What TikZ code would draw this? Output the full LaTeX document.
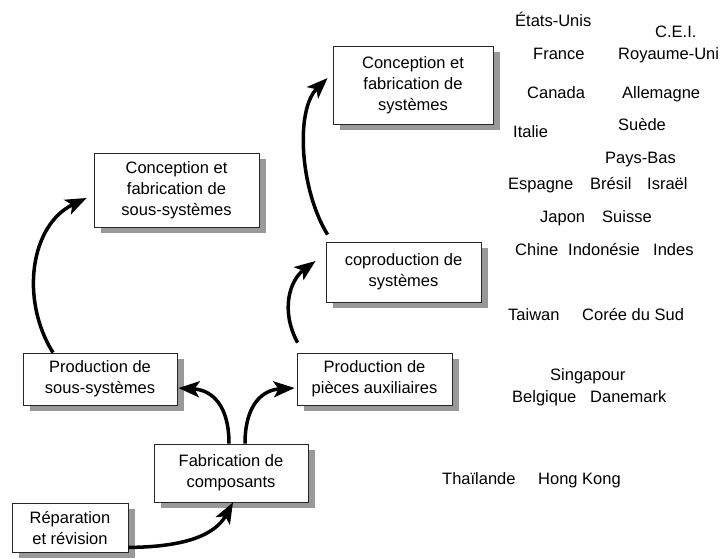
\documentclass[tikz,border=0pt]{standalone}
\usepackage{fontspec}
\setmainfont{Liberation Sans}
\usetikzlibrary{arrows.meta,backgrounds,calc}
\begin{document}
\begin{tikzpicture}[x=1pt,y=-1pt,
  box/.style={draw=black!85, line width=0.8pt, fill=white, align=center, inner sep=0pt,
    font=\fontsize{16.5}{21}\selectfont},
  shadowbox/.style={fill=black!40},
  country/.style={anchor=base west, inner sep=0pt, font=\fontsize{16.5}{20}\selectfont},
  arr/.style={line width=3.5pt, -{Stealth[length=21pt,width=16pt,inset=5pt]}}]
\useasboundingbox (0,0) rectangle (723,558);

% boxes
\node[box, minimum width=116pt, minimum height=49pt] (rep) at (70,527.5) {Réparation\\et révision};
\node[box, minimum width=154pt, minimum height=58pt] (fab) at (231,473) {Fabrication de\\composants};
\node[box, minimum width=154pt, minimum height=52pt] (pss) at (100,379) {Production de\\sous-systèmes};
\node[box, minimum width=155pt, minimum height=52pt] (pai) at (374.5,379) {Production de\\pièces auxiliaires};
\node[box, minimum width=155pt, minimum height=60pt] (cop) at (403.5,272) {coproduction de\\systèmes};
\node[box, minimum width=160pt, minimum height=78pt] (cfs) at (413,85) {Conception et\\fabrication de\\systèmes};
\node[box, minimum width=165pt, minimum height=74pt] (css) at (176.5,190) {Conception et\\fabrication de\\sous-systèmes};

% shadows
\begin{scope}[on background layer]
\fill[white] (0,0) rectangle (723,558);
\foreach \n in {rep,fab,pss,pai,cop,cfs,css}
  \fill[shadowbox] ($(\n.north west)+(7,6)$) rectangle ($(\n.south east)+(7,6)$);
\end{scope}

% arrows
\draw[arr] ($(rep.south east)+(0,-5)$) .. controls (185,547) and (215,535) .. ($(fab.south)+(2,0)$);
\draw[arr] ($(fab.north)+(-2,0)$) .. controls (229,405) and (212,390) .. ($(pss.east)+(1,9)$);
\draw[arr] ($(fab.north)+(14,0)$) .. controls (245,405) and (262,390) .. ($(pai.west)+(-2,9)$);
\draw[arr] ($(pss.north)+(-47,0)$) .. controls (20,300) and (30,225) .. ($(css.west)+(-7,8)$);
\draw[arr] ($(pai.north west)+(1,-10)$) .. controls (280,310) and (290,280) .. ($(cop.west)+(-10,-11)$);
\draw[arr] ($(cop.north west)+(2,-7)$) .. controls (300,190) and (295,110) .. ($(cfs.west)+(-5,-7)$);

% countries
\node[country] (us) at (515,26) {États-Unis};
\node[country] (cei) at (655,37) {C.E.I.};
\node[country] (fr) at (533,59) {France};
\node[country] (uk) at (618,59) {Royaume-Uni};
\node[country] (ca) at (527,98) {Canada};
\node[country] (de) at (622,98) {Allemagne};
\node[country] (it) at (513,137) {Italie};
\node[country] (se) at (618,130) {Suède};
\node[country] (nl) at (605,163) {Pays-Bas};
\node[country] (es) at (508,189) {Espagne};
\node[country] (br) at (590,189) {Brésil};
\node[country] (il) at (647,189) {Israël};
\node[country] (jp) at (540,222) {Japon};
\node[country] (ch) at (602,222) {Suisse};
\node[country] (cn) at (515,255) {Chine};
\node[country] (id) at (568,255) {Indonésie};
\node[country] (in) at (653,255) {Indes};
\node[country] (tw) at (508,320) {Taiwan};
\node[country] (kr) at (582,320) {Corée du Sud};
\node[country] (sg) at (550,380) {Singapour};
\node[country] (be) at (512,402) {Belgique};
\node[country] (dk) at (590,402) {Danemark};
\node[country] (th) at (442,484) {Thaïlande};
\node[country] (hk) at (538,484) {Hong Kong};
\end{tikzpicture}
\end{document}
